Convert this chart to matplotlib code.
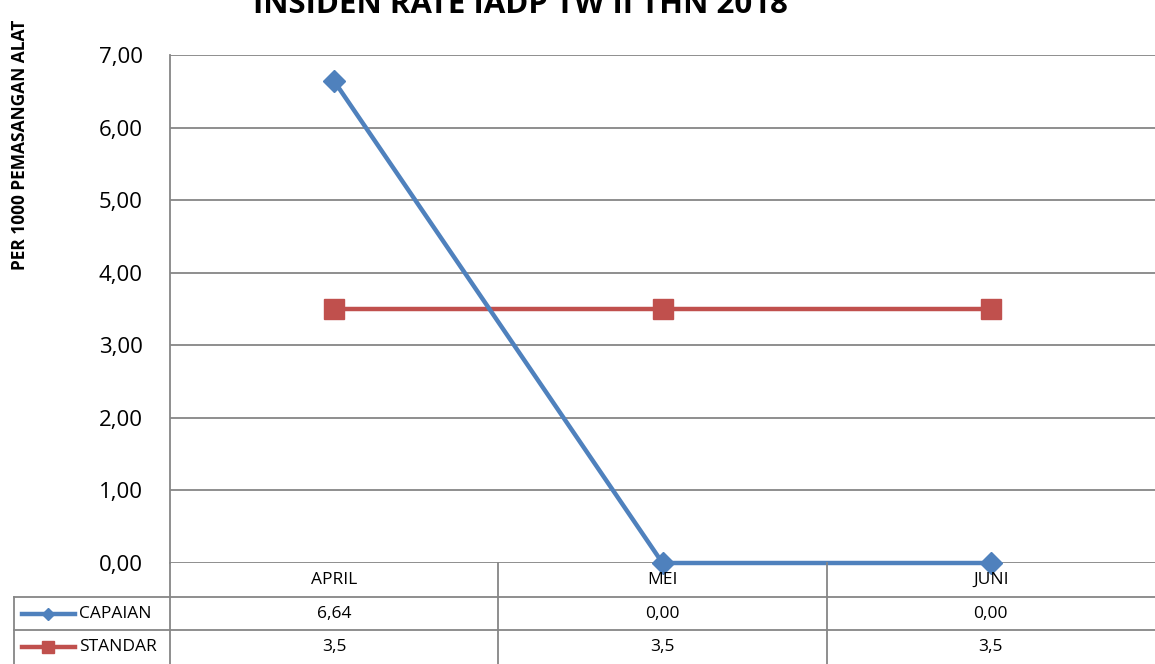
import matplotlib
matplotlib.use("Agg")
import matplotlib.pyplot as plt
from matplotlib.lines import Line2D

categories = ["APRIL", "MEI", "JUNI"]
capaian = [6.64, 0.00, 0.00]
standar = [3.5, 3.5, 3.5]
capaian_labels = ["6,64", "0,00", "0,00"]
standar_labels = ["3,5", "3,5", "3,5"]
yticks = [0, 1, 2, 3, 4, 5, 6, 7]
title = "INSIDEN RATE IADP TW II THN 2018"
ylabel = "PER 1000 PEMASANGAN ALAT"

plt.rcParams['font.family'] = ['Open Sans', 'DejaVu Sans']
W, H = 1155, 664
fig = plt.figure(figsize=(W / 100, H / 100), dpi=100)
L, R, T, B = 170, 1155, 55, 563
ax = fig.add_axes([L / W, 1 - B / H, (R - L) / W, (B - T) / H])

blue = "#4F81BD"
red = "#C0504D"
grid = "#868686"

x = list(range(len(categories)))
ax.plot(x, standar, color=red, lw=3.2, marker="s", ms=15, zorder=3, clip_on=False)
ax.plot(x, capaian, color=blue, lw=3.2, marker="D", ms=11, zorder=4, clip_on=False)

ax.set_xlim(-0.5, len(categories) - 0.5)
ax.set_ylim(0, 7)
ax.set_yticks(yticks)
ax.set_yticklabels([f"{v:.2f}".replace(".", ",") for v in yticks], fontsize=16)
ax.set_xticks([])
ax.yaxis.grid(True, color=grid, lw=1.3)
ax.set_axisbelow(True)
for s in ["top", "right", "bottom"]:
    ax.spines[s].set_visible(False)
ax.spines["left"].set_color(grid)
ax.spines["left"].set_linewidth(1.3)
ax.tick_params(axis="y", length=0, pad=19.5)

fig.text(20 / W, 1 - 145 / H, ylabel, rotation=90, fontsize=12.5, fontweight="bold",
         ha="center", va="center")
fig.text(520 / W, 1 - 5 / H, title, fontsize=22.5, fontweight="bold", ha="center", va="center")

# data table
def fx(px):
    return px / W

def fy(py):
    return 1 - py / H

col_x = [L + (R - L) * i / len(categories) for i in range(len(categories) + 1)]
lkw = dict(color=grid, lw=1.3, transform=fig.transFigure)
for cx in col_x[:-1]:
    fig.add_artist(Line2D([fx(cx), fx(cx)], [fy(563), fy(664)], **lkw))
fig.add_artist(Line2D([fx(14), fx(14)], [fy(597), fy(664)], **lkw))
for ry in [597, 630]:
    fig.add_artist(Line2D([fx(14), fx(R)], [fy(ry), fy(ry)], **lkw))

fs = 12.5
for i, c in enumerate(categories):
    cx = (col_x[i] + col_x[i + 1]) / 2
    fig.text(fx(cx), fy(580), c, fontsize=fs, ha="center", va="center")
    fig.text(fx(cx), fy(613.5), capaian_labels[i], fontsize=fs, ha="center", va="center")
    fig.text(fx(cx), fy(647), standar_labels[i], fontsize=fs, ha="center", va="center")

fig.add_artist(Line2D([fx(22), fx(75)], [fy(613.5), fy(613.5)], color=blue, lw=3.2,
                      transform=fig.transFigure))
fig.add_artist(Line2D([fx(48)], [fy(613.5)], color=blue, marker="D", ms=6,
                      transform=fig.transFigure))
fig.add_artist(Line2D([fx(22), fx(75)], [fy(647), fy(647)], color=red, lw=3.2,
                      transform=fig.transFigure))
fig.add_artist(Line2D([fx(48)], [fy(647)], color=red, marker="s", ms=8,
                      transform=fig.transFigure))
fig.text(fx(79), fy(613.5), "CAPAIAN", fontsize=fs, ha="left", va="center")
fig.text(fx(79), fy(647), "STANDAR", fontsize=fs, ha="left", va="center")

fig.savefig("out.png", dpi=100)
